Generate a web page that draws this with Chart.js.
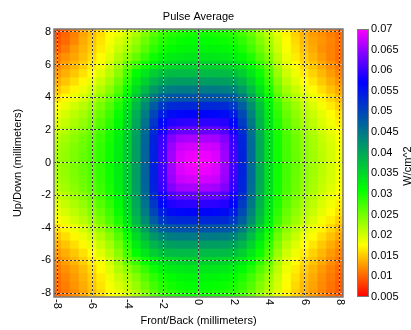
<!DOCTYPE html>
<html><head><meta charset="utf-8">
<script src="https://cdn.jsdelivr.net/npm/chart.js@4/dist/chart.umd.min.js"></script>
<style>html,body{margin:0;padding:0;background:#fff;}canvas{display:block;}</style>
</head><body>
<canvas id="c" width="411" height="330"></canvas>
<script>
// cell centres (mm)
const xPositions = [-8,-7.5,-7,-6.5,-6,-5.5,-5,-4.5,-4,-3.5,-3,-2.5,-2,-1.5,-1,-0.5,0,0.5,1,1.5,2,2.5,3,3.5,4,4.5,5,5.5,6,6.5,7,7.5,8];
const yPositions = [8,7.5,7,6.5,6,5.5,5,4.5,4,3.5,3,2.5,2,1.5,1,0.5,0,-0.5,-1,-1.5,-2,-2.5,-3,-3.5,-4,-4.5,-5,-5.5,-6,-6.5,-7,-7.5,-8];
const tickValues = [-8,-6,-4,-2,0,2,4,6,8];
const tickLabels = ["-8","-6","-4","-2","0","2","4","6","8"];
const colorbarTicks = [0.005,0.01,0.015,0.02,0.025,0.03,0.035,0.04,0.045,0.05,0.055,0.06,0.065,0.07];
const colorbarLabels = ["0.005","0.01","0.015","0.02","0.025","0.03","0.035","0.04","0.045","0.05","0.055","0.06","0.065","0.07"];
// W/cm^2, one row per yPositions entry (top to bottom), columns follow xPositions
const cellValues = [
[0.0090,0.0101,0.0115,0.0132,0.0145,0.0159,0.0174,0.0185,0.0200,0.0219,0.0242,0.0263,0.0280,0.0290,0.0296,0.0300,0.0300,0.0300,0.0298,0.0295,0.0288,0.0275,0.0256,0.0233,0.0211,0.0192,0.0170,0.0154,0.0139,0.0128,0.0122,0.0114,0.0105],
[0.0095,0.0104,0.0118,0.0136,0.0149,0.0163,0.0180,0.0195,0.0211,0.0231,0.0254,0.0276,0.0291,0.0301,0.0307,0.0310,0.0310,0.0310,0.0308,0.0305,0.0299,0.0286,0.0267,0.0243,0.0221,0.0198,0.0174,0.0158,0.0143,0.0132,0.0125,0.0117,0.0108],
[0.0100,0.0112,0.0128,0.0140,0.0153,0.0167,0.0185,0.0204,0.0221,0.0241,0.0265,0.0287,0.0302,0.0312,0.0317,0.0320,0.0320,0.0320,0.0319,0.0316,0.0309,0.0297,0.0277,0.0253,0.0229,0.0203,0.0179,0.0162,0.0146,0.0135,0.0123,0.0116,0.0107],
[0.0113,0.0123,0.0133,0.0145,0.0159,0.0174,0.0192,0.0216,0.0236,0.0258,0.0282,0.0304,0.0319,0.0328,0.0332,0.0335,0.0335,0.0335,0.0334,0.0331,0.0325,0.0313,0.0293,0.0267,0.0243,0.0210,0.0185,0.0167,0.0152,0.0140,0.0128,0.0116,0.0105],
[0.0119,0.0130,0.0141,0.0153,0.0167,0.0182,0.0201,0.0226,0.0256,0.0279,0.0305,0.0327,0.0341,0.0349,0.0353,0.0355,0.0355,0.0355,0.0354,0.0352,0.0346,0.0334,0.0313,0.0286,0.0256,0.0219,0.0193,0.0175,0.0159,0.0147,0.0134,0.0122,0.0111],
[0.0127,0.0138,0.0149,0.0162,0.0176,0.0193,0.0212,0.0238,0.0272,0.0310,0.0337,0.0360,0.0374,0.0379,0.0380,0.0380,0.0380,0.0380,0.0380,0.0379,0.0374,0.0359,0.0334,0.0304,0.0269,0.0230,0.0203,0.0184,0.0167,0.0155,0.0142,0.0129,0.0117],
[0.0137,0.0148,0.0160,0.0173,0.0188,0.0205,0.0224,0.0251,0.0287,0.0327,0.0358,0.0386,0.0402,0.0408,0.0410,0.0410,0.0410,0.0410,0.0410,0.0408,0.0402,0.0385,0.0355,0.0320,0.0282,0.0242,0.0213,0.0194,0.0177,0.0164,0.0150,0.0137,0.0125],
[0.0148,0.0160,0.0172,0.0186,0.0201,0.0218,0.0238,0.0266,0.0303,0.0346,0.0382,0.0415,0.0435,0.0443,0.0445,0.0445,0.0445,0.0445,0.0445,0.0443,0.0435,0.0413,0.0378,0.0338,0.0296,0.0254,0.0225,0.0205,0.0187,0.0174,0.0160,0.0146,0.0134],
[0.0161,0.0173,0.0185,0.0199,0.0215,0.0232,0.0253,0.0281,0.0319,0.0364,0.0406,0.0446,0.0472,0.0482,0.0485,0.0485,0.0485,0.0485,0.0485,0.0482,0.0472,0.0444,0.0401,0.0355,0.0310,0.0267,0.0237,0.0217,0.0199,0.0185,0.0170,0.0157,0.0143],
[0.0175,0.0187,0.0200,0.0214,0.0229,0.0247,0.0268,0.0296,0.0334,0.0381,0.0429,0.0477,0.0512,0.0526,0.0529,0.0530,0.0530,0.0530,0.0529,0.0526,0.0511,0.0475,0.0424,0.0371,0.0323,0.0279,0.0249,0.0228,0.0210,0.0196,0.0181,0.0167,0.0154],
[0.0186,0.0198,0.0210,0.0224,0.0240,0.0257,0.0278,0.0306,0.0344,0.0392,0.0444,0.0499,0.0541,0.0560,0.0564,0.0565,0.0565,0.0565,0.0564,0.0559,0.0540,0.0496,0.0438,0.0381,0.0331,0.0287,0.0257,0.0236,0.0218,0.0204,0.0189,0.0175,0.0162],
[0.0195,0.0207,0.0219,0.0233,0.0248,0.0266,0.0286,0.0313,0.0351,0.0398,0.0453,0.0514,0.0564,0.0588,0.0594,0.0595,0.0595,0.0595,0.0594,0.0589,0.0563,0.0511,0.0447,0.0387,0.0336,0.0293,0.0263,0.0243,0.0224,0.0210,0.0196,0.0182,0.0168],
[0.0204,0.0215,0.0228,0.0241,0.0256,0.0273,0.0293,0.0319,0.0356,0.0403,0.0461,0.0526,0.0583,0.0614,0.0624,0.0625,0.0625,0.0625,0.0624,0.0614,0.0582,0.0523,0.0454,0.0392,0.0340,0.0297,0.0268,0.0248,0.0230,0.0216,0.0201,0.0187,0.0174],
[0.0214,0.0225,0.0237,0.0250,0.0264,0.0280,0.0299,0.0325,0.0360,0.0407,0.0466,0.0535,0.0600,0.0641,0.0657,0.0660,0.0660,0.0660,0.0657,0.0641,0.0598,0.0532,0.0459,0.0395,0.0343,0.0301,0.0272,0.0253,0.0235,0.0222,0.0207,0.0194,0.0180],
[0.0220,0.0230,0.0242,0.0254,0.0268,0.0284,0.0302,0.0327,0.0361,0.0408,0.0468,0.0537,0.0605,0.0652,0.0675,0.0679,0.0680,0.0679,0.0675,0.0651,0.0603,0.0534,0.0461,0.0396,0.0344,0.0302,0.0274,0.0255,0.0238,0.0224,0.0210,0.0197,0.0183],
[0.0223,0.0234,0.0245,0.0257,0.0270,0.0285,0.0303,0.0328,0.0362,0.0408,0.0468,0.0538,0.0607,0.0656,0.0683,0.0691,0.0693,0.0691,0.0683,0.0655,0.0605,0.0535,0.0461,0.0396,0.0344,0.0303,0.0275,0.0256,0.0239,0.0226,0.0212,0.0199,0.0185],
[0.0225,0.0235,0.0246,0.0258,0.0271,0.0286,0.0304,0.0328,0.0362,0.0408,0.0468,0.0538,0.0607,0.0656,0.0685,0.0695,0.0700,0.0695,0.0685,0.0655,0.0605,0.0535,0.0461,0.0396,0.0344,0.0303,0.0275,0.0256,0.0239,0.0226,0.0212,0.0199,0.0186],
[0.0223,0.0234,0.0245,0.0257,0.0270,0.0285,0.0303,0.0328,0.0362,0.0408,0.0468,0.0538,0.0607,0.0656,0.0683,0.0691,0.0693,0.0691,0.0683,0.0655,0.0605,0.0535,0.0461,0.0396,0.0344,0.0303,0.0275,0.0256,0.0239,0.0226,0.0212,0.0199,0.0185],
[0.0220,0.0230,0.0242,0.0254,0.0268,0.0284,0.0302,0.0327,0.0361,0.0408,0.0468,0.0537,0.0605,0.0652,0.0675,0.0679,0.0680,0.0679,0.0675,0.0651,0.0603,0.0534,0.0461,0.0396,0.0344,0.0302,0.0274,0.0255,0.0238,0.0224,0.0210,0.0197,0.0183],
[0.0214,0.0225,0.0237,0.0250,0.0264,0.0280,0.0299,0.0325,0.0360,0.0407,0.0466,0.0535,0.0600,0.0641,0.0657,0.0660,0.0660,0.0660,0.0657,0.0641,0.0598,0.0532,0.0459,0.0395,0.0343,0.0301,0.0272,0.0253,0.0235,0.0222,0.0207,0.0194,0.0180],
[0.0204,0.0215,0.0228,0.0241,0.0256,0.0273,0.0293,0.0319,0.0356,0.0403,0.0461,0.0526,0.0583,0.0614,0.0624,0.0625,0.0625,0.0625,0.0624,0.0614,0.0582,0.0523,0.0454,0.0392,0.0340,0.0297,0.0268,0.0248,0.0230,0.0216,0.0201,0.0187,0.0174],
[0.0195,0.0207,0.0219,0.0233,0.0248,0.0266,0.0286,0.0313,0.0351,0.0398,0.0453,0.0514,0.0564,0.0588,0.0594,0.0595,0.0595,0.0595,0.0594,0.0589,0.0563,0.0511,0.0447,0.0387,0.0336,0.0293,0.0263,0.0243,0.0224,0.0210,0.0196,0.0182,0.0168],
[0.0186,0.0198,0.0210,0.0224,0.0240,0.0257,0.0278,0.0306,0.0344,0.0392,0.0444,0.0499,0.0541,0.0560,0.0564,0.0565,0.0565,0.0565,0.0564,0.0559,0.0540,0.0496,0.0438,0.0381,0.0331,0.0287,0.0257,0.0236,0.0218,0.0204,0.0189,0.0175,0.0162],
[0.0175,0.0187,0.0200,0.0214,0.0229,0.0247,0.0268,0.0296,0.0334,0.0381,0.0429,0.0477,0.0512,0.0526,0.0529,0.0530,0.0530,0.0530,0.0529,0.0526,0.0511,0.0475,0.0424,0.0371,0.0323,0.0279,0.0249,0.0228,0.0210,0.0196,0.0181,0.0167,0.0154],
[0.0161,0.0173,0.0185,0.0199,0.0215,0.0232,0.0253,0.0281,0.0319,0.0364,0.0406,0.0446,0.0472,0.0482,0.0485,0.0485,0.0485,0.0485,0.0485,0.0482,0.0472,0.0444,0.0401,0.0355,0.0310,0.0267,0.0237,0.0217,0.0199,0.0185,0.0170,0.0157,0.0143],
[0.0148,0.0160,0.0172,0.0186,0.0201,0.0218,0.0238,0.0266,0.0303,0.0346,0.0382,0.0415,0.0435,0.0443,0.0445,0.0445,0.0445,0.0445,0.0445,0.0443,0.0435,0.0413,0.0378,0.0338,0.0296,0.0254,0.0225,0.0205,0.0187,0.0174,0.0160,0.0146,0.0134],
[0.0137,0.0148,0.0160,0.0173,0.0188,0.0205,0.0224,0.0251,0.0287,0.0327,0.0358,0.0386,0.0402,0.0408,0.0410,0.0410,0.0410,0.0410,0.0410,0.0408,0.0402,0.0385,0.0355,0.0320,0.0282,0.0242,0.0213,0.0194,0.0177,0.0164,0.0150,0.0137,0.0125],
[0.0127,0.0138,0.0149,0.0162,0.0176,0.0193,0.0212,0.0238,0.0272,0.0310,0.0337,0.0360,0.0374,0.0379,0.0380,0.0380,0.0380,0.0380,0.0380,0.0379,0.0374,0.0359,0.0334,0.0304,0.0269,0.0230,0.0203,0.0184,0.0167,0.0155,0.0142,0.0129,0.0117],
[0.0119,0.0130,0.0141,0.0153,0.0167,0.0182,0.0201,0.0226,0.0256,0.0279,0.0305,0.0327,0.0341,0.0349,0.0353,0.0355,0.0355,0.0355,0.0354,0.0352,0.0346,0.0334,0.0313,0.0286,0.0256,0.0219,0.0193,0.0175,0.0159,0.0147,0.0134,0.0122,0.0111],
[0.0113,0.0123,0.0133,0.0145,0.0159,0.0174,0.0192,0.0216,0.0236,0.0258,0.0282,0.0304,0.0319,0.0328,0.0332,0.0335,0.0335,0.0335,0.0334,0.0331,0.0325,0.0313,0.0293,0.0267,0.0243,0.0210,0.0185,0.0167,0.0152,0.0140,0.0128,0.0116,0.0105],
[0.0108,0.0118,0.0128,0.0140,0.0153,0.0167,0.0185,0.0204,0.0221,0.0241,0.0265,0.0287,0.0302,0.0312,0.0317,0.0320,0.0320,0.0320,0.0319,0.0316,0.0309,0.0297,0.0277,0.0253,0.0229,0.0203,0.0179,0.0162,0.0146,0.0135,0.0123,0.0112,0.0101],
[0.0105,0.0114,0.0124,0.0136,0.0149,0.0163,0.0180,0.0195,0.0211,0.0231,0.0254,0.0276,0.0291,0.0301,0.0307,0.0310,0.0310,0.0310,0.0308,0.0305,0.0299,0.0286,0.0267,0.0243,0.0221,0.0198,0.0174,0.0158,0.0143,0.0132,0.0120,0.0109,0.0098],
[0.0102,0.0111,0.0121,0.0132,0.0145,0.0159,0.0174,0.0185,0.0200,0.0219,0.0242,0.0263,0.0280,0.0290,0.0296,0.0300,0.0300,0.0300,0.0298,0.0295,0.0288,0.0275,0.0256,0.0233,0.0211,0.0192,0.0170,0.0154,0.0139,0.0128,0.0117,0.0106,0.0095]
];
// colour map: value -> rgb
const colorStops = [
  [0.005,[255,0,0]],[0.0115,[255,128,0]],[0.0176,[255,255,0]],[0.031,[0,255,0]],
  [0.044,[0,128,128]],[0.057,[0,0,255]],[0.064,[128,0,255]],[0.07,[255,0,255]]
];
const vMin = 0.005, vMax = 0.07;
function colorFor(v){
  if (v <= colorStops[0][0]) return 'rgb(' + colorStops[0][1].join(',') + ')';
  for (let i = 1; i < colorStops.length; i++){
    if (v <= colorStops[i][0]){
      const a = colorStops[i-1], b = colorStops[i];
      const t = (v - a[0]) / (b[0] - a[0]);
      const c = a[1].map((ch, k) => Math.round(ch + (b[1][k] - ch) * t));
      return 'rgb(' + c.join(',') + ')';
    }
  }
  return 'rgb(' + colorStops[colorStops.length-1][1].join(',') + ')';
}

const FONT = "'Liberation Sans', Arial, sans-serif";
Chart.defaults.font.family = FONT;
Chart.defaults.color = '#000';

const datasets = yPositions.map((yv, r) => ({
  data: xPositions.map(xv => ({x: xv, y: [yv - 0.25, yv + 0.25]})),
  backgroundColor: cellValues[r].map(colorFor),
  borderWidth: 0,
  inflateAmount: 0.5,
  barPercentage: 1,
  categoryPercentage: 1,
  grouped: false
}));

function alignPx(p){ return Math.round(p - 0.5) + 0.5; }

const decorations = {
  id: 'decorations',
  afterDatasetsDraw(chart){
    const {ctx, chartArea: a, scales: {x, y}} = chart;
    ctx.save();
    ctx.strokeStyle = 'rgba(255,255,255,0.45)';
    ctx.lineWidth = 1;
    ctx.beginPath();
    tickValues.forEach(v => {
      const px = alignPx(x.getPixelForValue(v));
      ctx.moveTo(px, a.top); ctx.lineTo(px, a.bottom);
      const py = alignPx(y.getPixelForValue(v));
      ctx.moveTo(a.left, py); ctx.lineTo(a.right, py);
    });
    ctx.stroke();
    ctx.restore();
  },
  afterDraw(chart){
    const {ctx, chartArea: a, scales: {x}} = chart;
    ctx.save();
    ctx.strokeStyle = '#7a7a7a';
    ctx.lineWidth = 1.5;
    ctx.strokeRect(a.left, a.top, a.right - a.left, a.bottom - a.top);
    ctx.fillStyle = '#000';
    ctx.font = '11px ' + FONT;
    ctx.textAlign = 'center';
    ctx.textBaseline = 'middle';
    ctx.fillText('Pulse Average', (a.left + a.right) / 2, 17);
    tickValues.forEach((v, i) => {
      ctx.save();
      ctx.translate(x.getPixelForValue(v), a.bottom + 2);
      ctx.rotate(Math.PI / 2);
      ctx.textAlign = 'left';
      ctx.textBaseline = 'middle';
      ctx.fillText(tickLabels[i], 0, 0);
      ctx.restore();
    });
    const cbL = 357, cbR = 369, cbT = 29, cbB = 297;
    const g = ctx.createLinearGradient(0, cbB, 0, cbT);
    colorStops.forEach(s => g.addColorStop((s[0] - vMin) / (vMax - vMin), 'rgb(' + s[1].join(',') + ')'));
    ctx.fillStyle = g;
    ctx.fillRect(cbL, cbT, cbR - cbL, cbB - cbT);
    ctx.strokeStyle = '#7a7a7a';
    ctx.lineWidth = 1;
    ctx.strokeRect(cbL + 0.5, cbT + 0.5, cbR - cbL - 1, cbB - cbT - 1);
    ctx.fillStyle = '#000';
    ctx.textAlign = 'left';
    ctx.textBaseline = 'middle';
    colorbarTicks.forEach((v, i) => {
      const py = cbB - (v - vMin) / (vMax - vMin) * (cbB - cbT);
      ctx.fillText(colorbarLabels[i], 371, py);
    });
    ctx.translate(408, 166);
    ctx.rotate(-Math.PI / 2);
    ctx.textAlign = 'center';
    ctx.fillText('W/cm^2', 0, 0);
    ctx.restore();
  }
};

new Chart(document.getElementById('c'), {
  type: 'bar',
  data: {datasets},
  options: {
    responsive: false,
    animation: false,
    devicePixelRatio: 1,
    layout: {padding: {left: 0, right: 68, top: 29, bottom: 0}},
    plugins: {legend: {display: false}, tooltip: {enabled: false}, title: {display: false}},
    scales: {
      x: {
        type: 'linear', min: -8.17, max: 8.17, offset: false, stacked: false,
        afterBuildTicks: s => { s.ticks = tickValues.map(v => ({value: v})); },
        afterFit: s => { s.height = 33; },
        ticks: {display: false, autoSkip: false},
        grid: {offset: false, color: '#383838', lineWidth: 1, drawTicks: false, z: 1},
        border: {display: false, dash: [2, 2]},
        title: {display: true, text: 'Front/Back (millimeters)', font: {size: 11}, color: '#000', padding: {top: 0, bottom: 2}}
      },
      y: {
        type: 'linear', min: -8.24, max: 8.18, stacked: false,
        afterBuildTicks: s => { s.ticks = tickValues.map(v => ({value: v})); },
        afterFit: s => { s.width = 54; },
        ticks: {padding: 3, font: {size: 11}, color: '#000'},
        grid: {color: '#383838', lineWidth: 1, drawTicks: false, z: 1},
        border: {display: false, dash: [2, 2]},
        title: {display: true, text: 'Up/Down (millimeters)', font: {size: 11}, color: '#000', padding: {top: 11, bottom: 0}}
      }
    }
  },
  plugins: [decorations]
});
</script>
</body></html>
